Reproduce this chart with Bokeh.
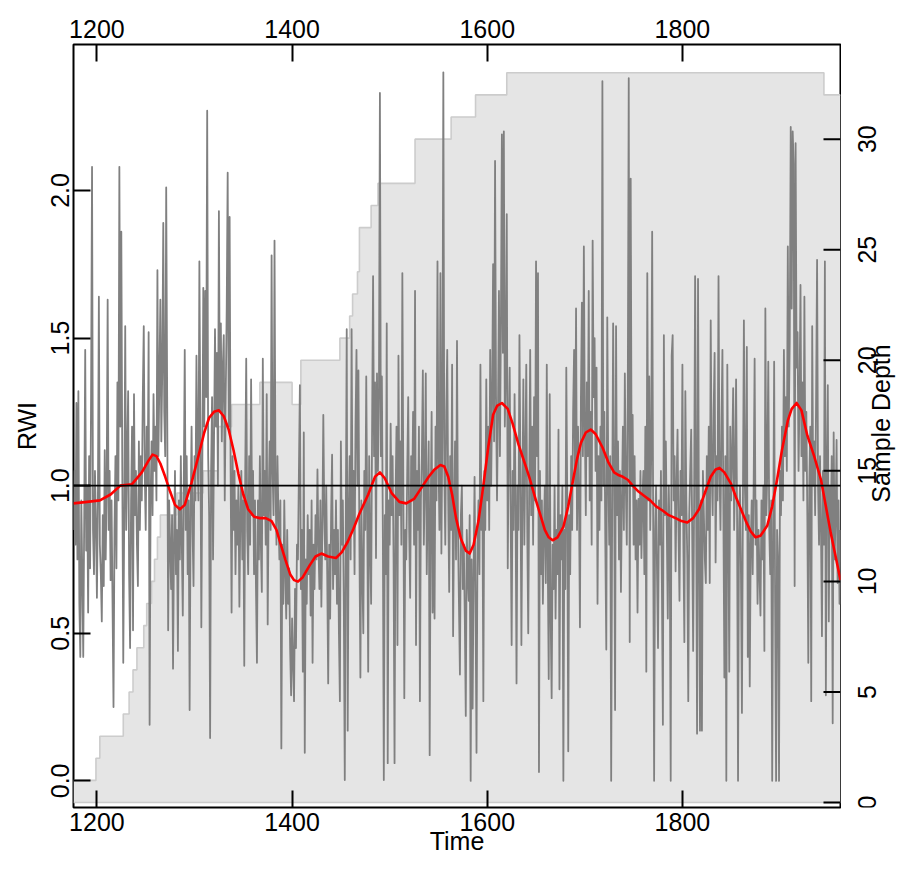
import math
from bokeh.plotting import figure
from bokeh.layouts import row
from bokeh.models import (Range1d, LinearAxis, FixedTicker, PrintfTickFormatter,
                          Span)
from bokeh.core.properties import value
from bokeh.embed import file_html
from bokeh.resources import INLINE

# ---------------- data ----------------
first_year = 1176
rwi = [
    0.85, 1.05, 0.80, 1.28, 0.75, 1.32, 0.60, 0.42, 0.95, 0.70,
    0.42, 0.90, 1.46, 0.78, 1.00, 0.57, 1.10, 0.72, 1.30, 2.08,
    0.85, 0.70, 1.05, 0.88, 0.62, 0.95, 1.64, 0.80, 0.70, 0.54,
    0.90, 0.66, 1.12, 0.75, 1.00, 1.63, 0.85, 1.05, 0.68, 0.95,
    0.60, 0.25, 0.85, 1.10, 0.72, 1.35, 0.95, 2.08, 1.20, 1.86,
    1.05, 0.40, 0.90, 1.54, 0.85, 1.10, 1.32, 0.70, 0.45, 0.95,
    1.20, 0.51, 1.31, 0.90, 1.05, 0.80, 0.66, 1.15, 0.85, 1.10,
    0.95, 1.30, 1.54, 1.05, 0.85, 1.20, 1.00, 1.52, 0.19, 0.95,
    1.15, 0.90, 1.31, 1.05, 1.20, 0.95, 1.73, 1.10, 1.35, 1.63,
    1.15, 1.40, 1.89, 1.25, 1.10, 2.01, 1.30, 0.51, 0.95, 0.80,
    0.65, 0.90, 0.38, 0.80, 1.05, 0.70, 0.85, 0.44, 0.95, 0.75,
    1.10, 0.80, 0.56, 1.00, 1.46, 0.85, 1.10, 0.70, 0.95, 0.24,
    0.90, 1.20, 0.85, 0.66, 1.10, 0.95, 1.44, 1.10, 0.95, 1.76,
    1.20, 0.52, 1.05, 1.67, 1.20, 1.66, 1.30, 2.27, 1.10, 0.90,
    0.145, 1.05, 1.30, 0.75, 1.15, 1.53, 1.20, 1.45, 1.00, 1.93,
    1.25, 1.55, 1.15, 1.40, 1.51, 0.95, 1.30, 1.60, 2.06, 1.20,
    1.91, 1.05, 0.57, 1.10, 0.85, 1.05, 0.70, 0.95, 0.80, 1.00,
    0.59, 0.90, 1.05, 0.75, 0.95, 0.39, 1.05, 1.43, 0.85, 0.70,
    1.10, 0.80, 1.36, 0.90, 1.05, 0.70, 0.95, 0.65, 0.40, 0.95,
    0.75, 1.10, 0.80, 0.64, 1.43, 0.90, 1.05, 0.80, 1.31, 0.53,
    0.95, 1.15, 0.85, 1.78, 1.05, 0.90, 1.83, 1.00, 0.80, 1.10,
    0.90, 0.75, 0.95, 0.11, 0.80, 0.60, 0.95, 0.71, 0.55, 0.85,
    0.60, 0.72, 0.45, 0.29, 0.55, 0.40, 0.27, 0.65, 0.45, 0.80,
    0.75, 1.05, 1.34, 0.65, 0.85, 0.37, 1.18, 0.095, 0.75, 0.60,
    0.90, 0.70, 0.85, 0.56, 0.95, 0.40, 0.80, 0.65, 0.90, 0.75,
    1.055, 0.80, 0.65, 0.95, 0.59, 0.85, 1.24, 0.90, 0.75, 1.00,
    0.70, 0.33, 0.80, 0.55, 0.90, 1.105, 0.65, 0.85, 0.70, 0.95,
    0.60, 0.85, 0.50, 0.27, 1.15, 0.80, 0.95, 0.60, 0.003, 0.85,
    1.53, 0.17, 0.90, 1.10, 0.75, 1.53, 0.85, 1.05, 0.70, 1.20,
    1.46, 1.00, 1.39, 0.80, 0.35, 0.95, 0.70, 0.50, 1.05, 0.85,
    1.37, 0.90, 0.37, 1.10, 0.80, 0.60, 1.20, 1.71, 1.10, 1.35,
    0.755, 1.38, 1.05, 1.30, 2.33, 1.10, 1.37, 0.85, 0.003, 0.90,
    0.70, 1.55, 0.06, 0.95, 0.80, 1.21, 0.90, 1.10, 0.75, 0.06,
    0.95, 1.20, 0.46, 1.44, 0.90, 1.15, 0.80, 1.72, 1.00, 0.28,
    0.85, 0.75, 1.05, 1.30, 0.85, 0.62, 1.10, 0.95, 1.25, 0.80,
    1.66, 0.46, 1.05, 0.85, 1.20, 0.27, 0.95, 1.10, 1.39, 0.80,
    1.00, 1.38, 0.70, 0.95, 1.15, 0.087, 0.90, 1.25, 0.57, 1.05,
    0.55, 1.20, 0.95, 1.76, 1.10, 0.85, 1.72, 0.77, 1.20, 2.40,
    1.05, 0.80, 1.25, 1.46, 0.95, 0.64, 1.10, 0.85, 1.41, 0.49,
    0.90, 1.15, 0.75, 1.49, 0.85, 0.60, 0.36, 0.90, 1.00, 0.65,
    0.80, 0.55, 0.22, 0.85, 0.70, 0.61, 0.90, 0.00, 0.75, 0.245,
    0.70, 1.03, 0.60, 0.095, 0.80, 0.95, 0.70, 1.41, 0.85, 1.00,
    0.27, 1.05, 0.85, 1.36, 0.95, 1.20, 0.85, 1.46, 1.00, 1.30,
    1.75, 1.15, 2.10, 1.30, 0.95, 1.25, 1.66, 1.10, 1.55, 2.19,
    1.45, 2.20, 1.20, 1.40, 1.92, 0.72, 1.15, 1.40, 0.90, 0.46,
    1.05, 0.85, 1.31, 0.95, 0.33, 1.00, 0.85, 1.51, 1.05, 0.46,
    0.95, 1.36, 0.80, 1.10, 1.41, 0.85, 0.50, 1.00, 1.46, 0.90,
    1.20, 0.80, 1.30, 0.95, 1.76, 1.10, 1.72, 0.03, 1.05, 0.70,
    0.95, 0.60, 0.85, 1.00, 0.67, 1.41, 0.75, 0.345, 1.31, 0.55,
    0.28, 0.80, 0.65, 1.00, 0.55, 0.85, 0.70, 1.19, 0.31, 0.90,
    0.75, 1.00, 0.00, 0.85, 0.65, 1.40, 0.95, 0.10, 0.90, 0.70,
    1.10, 0.85, 1.25, 1.46, 1.00, 1.60, 0.85, 1.20, 0.95, 0.52,
    1.30, 1.62, 1.10, 1.81, 1.20, 0.90, 1.35, 1.10, 1.66, 0.95,
    1.25, 0.80, 1.83, 1.30, 1.50, 1.05, 1.40, 0.60, 1.10, 0.85,
    1.20, 0.95, 2.37, 1.00, 1.25, 0.80, 0.445, 1.57, 1.05, 0.80,
    1.10, 0.00, 0.90, 1.55, 1.05, 0.24, 1.54, 0.90, 1.15, 0.75,
    1.05, 0.64, 0.95, 1.20, 0.85, 1.38, 1.00, 0.80, 1.30, 2.38,
    0.47, 2.04, 1.00, 1.24, 0.80, 1.10, 0.75, 0.95, 0.57, 0.955,
    0.80, 1.05, 0.755, 0.95, 1.05, 0.70, 1.20, 0.37, 1.72, 0.95,
    1.37, 0.85, 1.10, 1.86, 0.90, 0.00, 0.85, 1.00, 0.70, 0.45,
    0.95, 0.80, 1.05, 0.65, 0.19, 1.51, 0.90, 1.15, 0.85, 0.55,
    1.00, 0.80, 0.00, 1.44, 1.51, 0.95, 1.10, 0.71, 1.00, 1.19,
    0.85, 0.61, 1.05, 0.90, 1.41, 0.80, 0.47, 1.32, 0.95, 0.75,
    0.27, 0.90, 1.05, 1.19, 0.85, 0.44, 0.95, 1.71, 1.00, 0.16,
    1.70, 0.80, 0.17, 0.95, 0.17, 1.05, 0.90, 0.75, 0.67, 1.10,
    0.85, 1.20, 0.67, 1.56, 1.05, 0.90, 1.25, 1.45, 0.74, 1.10,
    0.95, 1.71, 1.05, 0.85, 1.20, 1.46, 0.90, 0.35, 1.10, 0.00,
    1.41, 0.90, 0.37, 1.20, 0.95, 1.10, 1.33, 0.85, 1.05, 1.36,
    0.90, 0.00, 0.85, 1.00, 0.70, 0.23, 0.95, 1.56, 1.00, 0.85,
    1.47, 0.42, 0.90, 0.32, 0.80, 0.95, 0.70, 1.00, 1.43, 0.80,
    0.95, 0.60, 0.85, 0.70, 0.56, 0.95, 0.75, 1.00, 0.44, 1.60,
    0.90, 1.05, 1.42, 0.85, 0.70, 0.95, 0.00, 0.80, 1.42, 0.60,
    0.00, 0.85, 0.75, 0.00, 1.05, 0.90, 1.20, 0.95, 1.46, 1.10,
    1.30, 1.05, 1.81, 1.20, 1.50, 2.215, 1.60, 2.20, 2.09, 0.66,
    2.16, 1.40, 1.52, 1.05, 1.30, 1.68, 1.10, 1.35, 0.95, 1.64,
    1.05, 1.25, 0.90, 0.40, 1.00, 1.20, 0.27, 1.54, 1.00, 1.15,
    0.90, 1.30, 1.765, 1.00, 0.80, 1.10, 0.85, 0.49, 1.05, 0.80,
    1.76, 0.29, 1.05, 1.34, 0.54, 1.00, 0.85, 1.10, 0.195, 1.18,
    0.75, 0.90, 1.155, 0.67, 0.95, 0.60, 0.85,
]
years = list(range(first_year, first_year + len(rwi)))

spline_years = [
    1176, 1190, 1203, 1214, 1224, 1236, 1246, 1252, 1257, 1261,
    1265, 1270, 1275, 1280, 1285, 1290, 1297, 1304, 1310, 1315,
    1320, 1325, 1330, 1335, 1340, 1345, 1350, 1355, 1361, 1367,
    1373, 1379, 1384, 1388, 1393, 1398, 1402, 1406, 1411, 1418,
    1424, 1430, 1437, 1445, 1451, 1457, 1463, 1469, 1478, 1485,
    1490, 1495, 1502, 1510, 1517, 1525, 1532, 1540, 1546, 1552,
    1556, 1560, 1564, 1568, 1573, 1578, 1582, 1586, 1591, 1596,
    1601, 1606, 1610, 1615, 1621, 1626, 1632, 1638, 1643, 1649,
    1654, 1659, 1663, 1667, 1672, 1678, 1683, 1688, 1692, 1696,
    1701, 1706, 1711, 1718, 1724, 1730, 1735, 1739, 1744, 1749,
    1755, 1761, 1767, 1773, 1780, 1786, 1793, 1799, 1805, 1811,
    1817, 1823, 1829, 1834, 1838, 1843, 1850, 1855, 1860, 1865,
    1870, 1875, 1880, 1887, 1892, 1897, 1902, 1908, 1912, 1917,
    1922, 1928, 1935, 1942, 1947, 1952, 1957, 1962,
]
spline_rwi = [
    0.94, 0.945, 0.95, 0.97, 1.0, 1.005, 1.045, 1.08, 1.105, 1.10,
    1.075, 1.03, 0.98, 0.935, 0.92, 0.935, 1.01, 1.10, 1.18, 1.23,
    1.25, 1.255, 1.235, 1.19, 1.12, 1.04, 0.97, 0.92, 0.895, 0.89,
    0.89, 0.88, 0.85, 0.805, 0.75, 0.70, 0.68, 0.675, 0.69, 0.73,
    0.76, 0.77, 0.76, 0.755, 0.775, 0.81, 0.855, 0.905, 0.97, 1.03,
    1.045, 1.025, 0.975, 0.945, 0.94, 0.955, 0.99, 1.03, 1.055, 1.07,
    1.065, 1.03, 0.97, 0.89, 0.82, 0.78, 0.77, 0.80, 0.88, 1.00,
    1.13, 1.24, 1.27, 1.28, 1.26, 1.21, 1.14, 1.08, 1.03, 0.96,
    0.905, 0.85, 0.825, 0.815, 0.825, 0.86, 0.93, 1.02, 1.09, 1.145,
    1.18, 1.19, 1.175, 1.13, 1.08, 1.045, 1.035, 1.03, 1.02, 1.00,
    0.98, 0.965, 0.95, 0.93, 0.915, 0.90, 0.89, 0.88, 0.875, 0.89,
    0.92, 0.975, 1.03, 1.055, 1.06, 1.045, 1.005, 0.96, 0.92, 0.88,
    0.845, 0.825, 0.83, 0.865, 0.93, 1.02, 1.12, 1.22, 1.26, 1.28,
    1.255, 1.17, 1.10, 1.02, 0.93, 0.84, 0.76, 0.68,
]

depth_years = [1176, 1199, 1203, 1227, 1233, 1237, 1241, 1248, 1251, 1256,
               1259, 1262, 1265, 1282, 1309, 1324, 1338, 1367, 1400, 1409,
               1449, 1459, 1462, 1467, 1469, 1481, 1488, 1526, 1563, 1588,
               1620, 1945, 1962]
depth_count = [1, 2, 3, 4, 5, 6, 7, 8, 9, 10,
               11, 12, 13, 14, 15, 17, 18, 19, 18, 20,
               21, 22, 23, 24, 26, 27, 28, 30, 31, 32,
               33, 32, 32]

x_ticks = [1200, 1400, 1600, 1800]
rwi_ticks = [0.0, 0.5, 1.0, 1.5, 2.0]
depth_ticks = [0, 5, 10, 15, 20, 25, 30]

# ---------------- layout constants (pixels) ----------------
W, H = 896, 857
FL, FT, FR, FB = 73, 44, 840, 809          # plot frame edges
MAIN_W = FR + 1                           # main figure ends just after frame
TICK_LEN = 17
TICKLAB_BASE = 866                        # baseline of right tick labels
TITLE_MIDX = 880                          # horizontal middle of "Sample Depth"
TITLE_MID = 424                           # vertical centre of "Sample Depth"
X0, X1 = 1176.0, 1962.0
Y0, Y1 = -0.0902, 2.4943
D0, D1 = -0.2255, 34.28

FONT = "Liberation Sans"
FS = "25px"


def depth_at(py):
    return D0 + (FB - py) * (D1 - D0) / (FB - FT)


# ---------------- main plot ----------------
p = figure(width=MAIN_W, height=H, output_backend="svg", toolbar_location=None,
           x_range=Range1d(X0, X1), y_range=Range1d(Y0, Y1),
           min_border_left=FL, min_border_right=MAIN_W - FR,
           min_border_top=FT, min_border_bottom=H - FB)
p.extra_y_ranges = {"depth": Range1d(D0, D1)}
p.xgrid.visible = False
p.ygrid.visible = False
p.outline_line_color = "black"
p.outline_line_width = 2
p.background_fill_color = "white"
p.border_fill_color = "white"

# sample depth polygon
p.varea_step(x=depth_years, y1=[0] * len(depth_years), y2=depth_count,
             step_mode="after", fill_color="#e5e5e5", y_range_name="depth")
p.step(x=depth_years, y=depth_count, mode="after", line_color="#cccccc",
       line_width=1.6, y_range_name="depth")
p.line(x=[depth_years[0], depth_years[-1]], y=[0, 0], line_color="#cccccc",
       line_width=1.6, y_range_name="depth")

# chronology
p.line(x=years, y=rwi, line_color="#808080", line_width=1.8, line_join="round")
p.line(x=spline_years, y=spline_rwi, line_color="#ff0000", line_width=2.6,
       line_join="round")
p.add_layout(Span(location=1.0, dimension="width", line_color="black",
                  line_width=1.6))

# inward ticks of the sample-depth axis on the right edge
p.ray(x=[X1] * len(depth_ticks), y=depth_ticks, length=TICK_LEN,
      length_units="screen", angle=math.pi, line_color="black", line_width=2,
      y_range_name="depth")


def style(ax):
    ax.axis_line_color = None
    ax.major_tick_in = TICK_LEN
    ax.major_tick_out = 0
    ax.minor_tick_line_color = None
    ax.major_tick_line_color = "black"
    ax.major_tick_line_width = 2
    ax.major_label_text_font = FONT
    ax.major_label_text_font_size = FS
    ax.major_label_text_color = "black"
    ax.axis_label_text_font = FONT
    ax.axis_label_text_font_size = FS
    ax.axis_label_text_font_style = "normal"
    ax.axis_label_text_color = "black"


xb = p.xaxis[0]
xb.ticker = FixedTicker(ticks=x_ticks)
xb.axis_label = "Time"
style(xb)
xb.major_label_standoff = 5
xb.axis_label_standoff = -7

xt = LinearAxis(ticker=FixedTicker(ticks=x_ticks))
style(xt)
xt.major_label_standoff = 7
p.add_layout(xt, "above")

yl = p.yaxis[0]
yl.ticker = FixedTicker(ticks=rwi_ticks)
yl.formatter = PrintfTickFormatter(format="%.1f")
yl.axis_label = "RWI"
style(yl)
yl.major_label_orientation = "parallel"
yl.major_label_standoff = 4
yl.axis_label_standoff = 8

# ---------------- right margin: depth tick labels and title ----------------
side = figure(width=W - MAIN_W, height=H, output_backend="svg",
              toolbar_location=None, x_axis_location=None,
              y_axis_location=None,
              x_range=Range1d(MAIN_W, W), y_range=Range1d(D0, D1),
              min_border_left=0, min_border_right=0,
              min_border_top=FT, min_border_bottom=H - FB)
side.xgrid.visible = False
side.ygrid.visible = False
side.outline_line_color = None
side.background_fill_color = "white"
side.border_fill_color = "white"

side.text(x=[TICKLAB_BASE] * len(depth_ticks), y=depth_ticks,
          text=[str(t) for t in depth_ticks], angle=math.pi / 2,
          text_align="center", text_baseline="alphabetic",
          text_font=value(FONT), text_font_size=value(FS), text_color="black")
side.text(x=[TITLE_MIDX], y=[depth_at(TITLE_MID)], text=["Sample Depth"],
          angle=math.pi / 2, text_align="center", text_baseline="middle",
          text_font=value(FONT), text_font_size=value(FS), text_color="black")

layout = row(p, side, spacing=0)
open("out.html", "w").write(file_html(layout, INLINE))
